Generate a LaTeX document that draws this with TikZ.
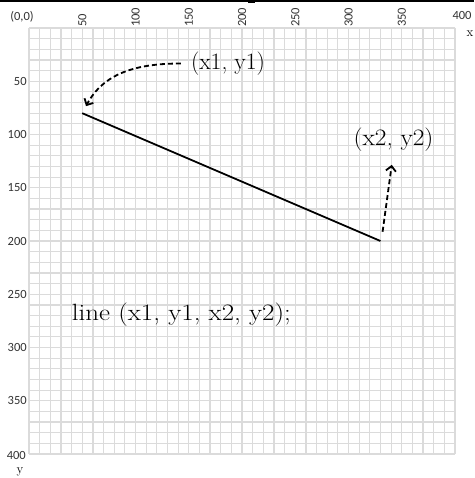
\documentclass[tikz,border=0pt]{standalone}
\usepackage{fontspec}
\newfontfamily\axisfont{Carlito}
\usetikzlibrary{arrows.meta}
\begin{document}
\begin{tikzpicture}[x=1pt,y=-1pt,
  gridline/.style={draw=black!14, line width=1.2pt},
  mainline/.style={draw=black, line width=1.8pt},
  dasharrow/.style={draw=black, line width=1.8pt, dash pattern=on 5pt off 3pt,
    -{Straight Barb[length=5pt,width=10pt]}},
  lbl/.style={inner sep=0pt, font=\fontsize{23.5}{28}\selectfont},
  axlbl/.style={inner sep=0pt, text=black!80, font=\axisfont\fontsize{12.5}{14}\selectfont},
  axname/.style={inner sep=0pt, font=\fontsize{13}{15}\selectfont}]
\useasboundingbox (0,0) rectangle (474,478);
\fill[white] (0,0) rectangle (474,478);
% top border line
\draw[line width=1.5pt] (0,1) -- (474,1);
\fill (248,0) rectangle (255,3.5);
% grid and line in diagram units
\begin{scope}[xshift=29pt, yshift=-28pt, x=1.065pt, y=-1.065pt]
  \foreach \i in {0,10,...,400} {
    \draw[gridline] (\i,0) -- (\i,400);
    \draw[gridline] (0,\i) -- (400,\i);
  }
  \coordinate (p1) at (50,80);
  \coordinate (p2) at (330,200);
  \coordinate (a2s) at (332,191.3);
  \draw[mainline] (p1) -- (p2);
  \foreach \v in {50,100,...,350} {
    \node[axlbl, rotate=90, anchor=west] (xt\v) at (\v,-1) {\v};
  }
  \foreach \v in {50,100,...,350} {
    \node[axlbl, anchor=east] (yt\v) at (-2,\v) {\v};
  }
\end{scope}
% axis texts
\node[axlbl] (origin) at (22,17) {(0,0)};
\node[axlbl] (xmax) at (462,15) {400};
\node[axname] (xname) at (470,34) {x};
\node[axlbl, anchor=east] (ymax) at (26,455) {400};
\node[axname] (yname) at (20,472.5) {y};
% labels
\node[lbl] (l1) at (228,63.5) {(x1, y1)};
\node[lbl] (l2) at (393.5,140) {\scalebox{1.08}[1]{(x2, y2)}};
\node[lbl] (l3) at (181.4,315) {\scalebox{1.15}[1]{line (x1, y1, x2, y2);}};
% arrows
\draw[dasharrow, shorten <=10pt, shorten >=8pt]
  (l1.west) .. controls +(-55,0) and +(-62:45) .. (p1);
\draw[dasharrow, shorten >=13pt] (a2s) -- (l2.south);
\end{tikzpicture}
\end{document}
